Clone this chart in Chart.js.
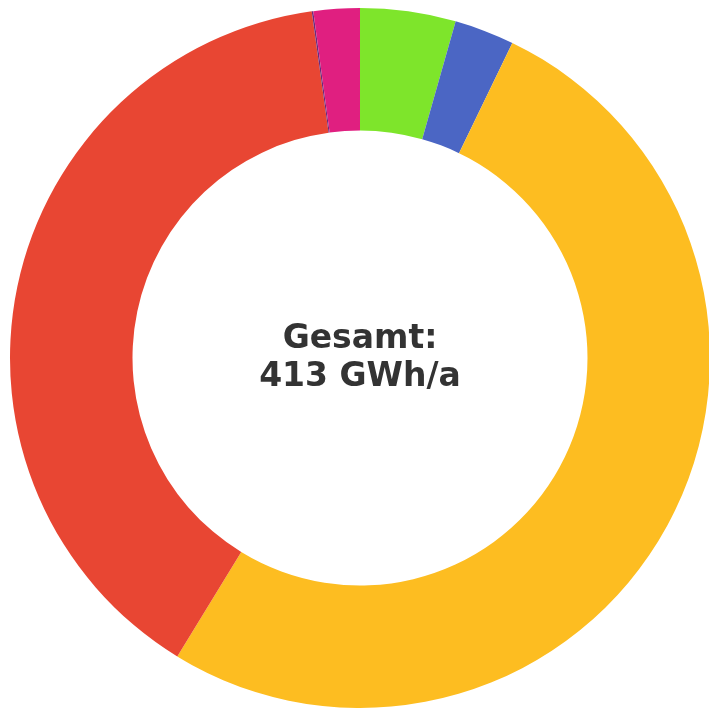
<!DOCTYPE html>
<html>
<head>
<meta charset="utf-8">
<script src="https://cdn.jsdelivr.net/npm/chart.js@4/dist/chart.umd.min.js"></script>
<style>
  html, body { margin: 0; padding: 0; background: #fff; overflow: hidden; }
  #wrap { position: absolute; left: 0; top: 0; width: 720px; height: 716px; }
</style>
</head>
<body>
<div id="wrap"><canvas id="energyChart"></canvas></div>
<script>
// Anteile am Gesamtverbrauch (GWh/a), im Uhrzeigersinn ab 12 Uhr
const labels = ['Photovoltaik', 'Windkraft', 'Erdgas', 'Heizöl', 'Sonstige', 'Biomasse'];
const values = [18.2, 11.4, 213.0, 161.3, 0.3, 8.8];
const colors = ['#7ee52b', '#4b66c4', '#fdbd21', '#e84633', '#6b2a7d', '#e01f80'];
const totalText = ['Gesamt:', '413 GWh/a'];

// Text in der Mitte des Rings
const centerText = {
    id: 'centerText',
    afterDraw(chart) {
        const ctx = chart.ctx;
        const meta = chart.getDatasetMeta(0);
        const x = meta.data[0].x;
        const y = meta.data[0].y;
        ctx.save();
        ctx.font = 'bold 33px "DejaVu Sans"';
        ctx.fillStyle = '#333333';
        ctx.textAlign = 'center';
        ctx.textBaseline = 'alphabetic';
        ctx.fillText(totalText[0], x, y - 10);
        ctx.fillText(totalText[1], x, y + 28);
        ctx.restore();
    }
};

const ctx = document.getElementById('energyChart').getContext('2d');
const energyChart = new Chart(ctx, {
    type: 'doughnut',
    data: {
        labels: labels,
        datasets: [{
            data: values,
            backgroundColor: colors,
            borderWidth: 0
        }]
    },
    options: {
        responsive: true,
        maintainAspectRatio: false,
        animation: false,
        cutout: '65%',
        layout: { padding: 8 },
        plugins: {
            legend: { display: false },
            tooltip: { enabled: false }
        }
    },
    plugins: [centerText]
});
</script>
</body>
</html>
